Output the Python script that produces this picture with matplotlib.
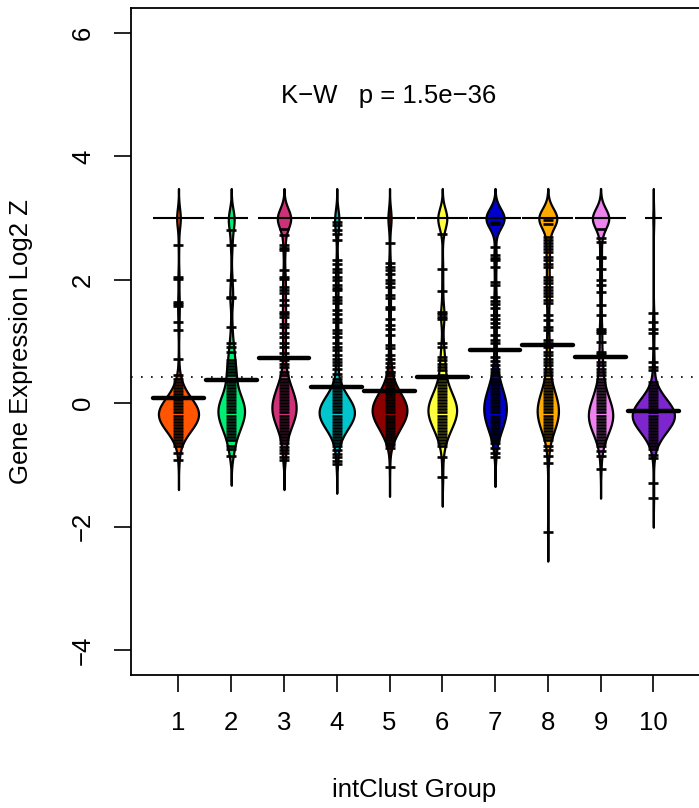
import numpy as np
import matplotlib.pyplot as plt

plt.rcParams['font.family'] = ['Liberation Sans', 'DejaVu Sans']

groups = ['1', '2', '3', '4', '5', '6', '7', '8', '9', '10']
colors = ['#FF5500', '#00EE76', '#CD3278', '#00C5CD', '#8B0000',
          '#FFFF40', '#0000CD', '#FFAA00', '#EE82EE', '#7D26CD']

# dense part of each bean: number of samples per 0.05-wide bin
body_bins = [0.70, 0.65, 0.60, 0.55, 0.50, 0.45, 0.40, 0.35, 0.30, 0.25,
             0.20, 0.15, 0.10, 0.05, 0.00, -0.05, -0.10, -0.15, -0.20, -0.25,
             -0.30, -0.35, -0.40, -0.45, -0.50, -0.55, -0.60, -0.65, -0.70, -0.75,
             -0.80, -0.85, -0.90, -0.95]
body_g1 = [0,0,0,0,0, 1,1,1,2,2, 3,4,5,7,9, 10,11,12,12,11, 10,9,7,6,4, 3,2,1,1,0, 0,0,0,0]
body_g2 = [1,1,1,1,1, 1,1,1,1,1, 1,2,2,2,3, 3,3,3,3,3, 2,2,2,2,1, 1,1,0,1,1, 0,1,0,0]
body_g3 = [0,0,0,0,1, 1,2,2,3,3, 4,4,5,5,6, 6,6,6,5,5, 4,4,3,2,2, 1,1,1,0,0, 0,0,0,0]
body_g4 = [0,0,0,0,0, 0,1,1,2,3, 4,5,7,9,11, 12,13,14,13,12, 11,9,7,5,4, 3,2,1,1,0, 0,0,0,0]
body_g5 = [0,0,0,0,1, 1,2,2,3,4, 5,6,8,9,11, 11,12,11,11,10, 9,7,6,5,4, 3,2,1,0,0, 0,0,0,0]
body_g6 = [0,0,0,0,0, 1,1,1,2,2, 2,3,3,4,4, 5,5,5,4,4, 4,3,3,2,2, 1,1,1,0,0, 0,0,0,0]
body_g7 = [0,0,0,1,1, 2,2,2,3,3, 4,4,5,5,6, 6,6,6,5,5, 5,4,4,3,2, 2,1,0,0,0, 0,0,0,0]
body_g8 = [0,0,0,0,1, 1,1,2,2,3, 3,4,4,5,5, 6,6,6,6,5, 5,4,4,3,3, 2,1,0,0,0, 0,0,0,0]
body_g9 = [0,0,0,0,0, 1,1,1,2,2, 2,3,3,4,4, 5,5,6,6,6, 5,5,4,4,3, 2,2,1,1,0, 0,0,0,0]
body_g10 = [0,0,0,0,0, 0,0,1,1,2, 3,4,5,7,9, 11,12,13,14,13, 12,11,9,7,5, 4,3,2,1,1, 0,0,0,0]

# single samples outside the dense part
extra_g1 = [2.56, 2.05, 2.01, 1.64, 1.60, 1.57, 1.32, 1.18, 0.72, -0.81, -0.92]
extra_g2 = [2.81, 2.56, 1.99, 1.72, 1.70, 1.24, 0.97, 0.91, 0.83]
extra_g3 = [2.83, 2.72, 2.56, 2.52, 2.48, 2.16, 2.05, 2.02, 1.89, 1.84, 1.78, 1.67, 1.59,
            1.48, 1.44, 1.40, 1.29, 1.24, 1.13, 1.08, 0.97, 0.91, 0.81, 0.70, 0.64, 0.59,
            -0.71, -0.76, -0.81, -0.87, -0.92]
extra_g4 = [2.94, 2.88, 2.80, 2.75, 2.64, 2.32, 2.26, 2.18, 2.13, 2.05, 2.00, 1.91, 1.87,
            1.83, 1.72, 1.67, 1.62, 1.51, 1.45, 1.37, 1.32, 1.18, 1.13, 1.08, 0.97, 0.91,
            0.86, 0.78, 0.72, 0.67, 0.62, 0.55, 0.48, -0.76, -0.82, -0.87, -0.93, -0.98]
extra_g5 = [2.60, 2.27, 2.21, 2.16, 2.10, 2.00, 1.94, 1.88, 1.75, 1.70, 1.56, 1.53, 1.37,
            1.26, 1.20, 1.10, 0.94, 0.89, 0.78, 0.72, 0.65, 0.58, 0.51, -0.67, -0.72, -1.03]
extra_g6 = [2.75, 2.17, 1.82, 1.48, 1.44, 1.40, 1.37, 0.97, 0.91, 0.75, 0.70, 0.64, 0.59,
            0.54, -0.70, -0.87, -1.19]
extra_g7 = [2.94, 2.90, 2.53, 2.40, 2.35, 2.32, 2.21, 1.97, 1.91, 1.72, 1.66, 1.60, 1.54,
            1.43, 1.36, 1.30, 1.24, 1.10, 1.02, 0.97, 0.86, 0.75, 0.68, 0.62,
            -0.65, -0.72, -0.80, -0.87]
extra_g8 = [2.97, 2.91, 2.70, 2.65, 2.60, 2.55, 2.50, 2.45, 2.37, 2.32, 2.26, 2.21, 2.05,
            2.00, 1.95, 1.89, 1.84, 1.78, 1.73, 1.67, 1.62, 1.43, 1.35, 1.24, 1.18, 1.02,
            0.97, 0.91, 0.83, 0.78, 0.72, 0.67, 0.62, 0.56, -0.70, -0.76, -0.86, -0.97, -2.08]
extra_g9 = [2.83, 2.67, 2.62, 2.37, 2.35, 2.18, 1.99, 1.91, 1.80, 1.59, 1.43, 1.21, 1.17,
            1.13, 1.00, 0.83, 0.79, 0.75, 0.67, 0.62, 0.56, 0.50, -0.78, -0.85, -1.06]
extra_g10 = [1.46, 1.32, 1.21, 1.13, 0.89, 0.67, 0.59, 0.54, -0.84, -0.89, -1.30, -1.53]

# samples capped at the top value 3
cap_value = 3.0
n_capped = [7, 4, 22, 8, 7, 10, 32, 33, 26, 2]

bodies = [body_g1, body_g2, body_g3, body_g4, body_g5,
          body_g6, body_g7, body_g8, body_g9, body_g10]
extras = [extra_g1, extra_g2, extra_g3, extra_g4, extra_g5,
          extra_g6, extra_g7, extra_g8, extra_g9, extra_g10]

bw = 0.16
ll = 0.19


def kde(vals, grid):
    d = (grid[:, None] - vals[None, :]) / bw
    return np.exp(-0.5 * d ** 2).sum(axis=1) / (len(vals) * bw * np.sqrt(2 * np.pi))


samples = []
for body, extra, nc in zip(bodies, extras, n_capped):
    vals = np.concatenate([np.repeat(body_bins, body), extra, [cap_value] * nc])
    samples.append(vals)

curves = []
for vals in samples:
    grid = np.linspace(vals.min() - 3 * bw, vals.max() + 3 * bw, 600)
    curves.append((grid, kde(vals, grid)))
dmax = max(d.max() for g, d in curves)

fig = plt.figure(figsize=(6.99, 8.08), dpi=100)
ax = fig.add_axes([131 / 699, (808 - 674.7) / 808, (700.8 - 131) / 699, (674.7 - 8.3) / 808])

for i, (vals, (grid, dens)) in enumerate(zip(samples, curves)):
    x = i + 1
    w = 0.4 * dens / dmax
    ax.fill_betweenx(grid, x - w, x + w, facecolor=colors[i], edgecolor='black',
                     linewidth=1.6, zorder=2)
    # bean lines
    pts = [b for b, c in zip(body_bins, bodies[i]) if c > 0] + extras[i]
    ax.hlines(pts, x - ll / 2, x + ll / 2, colors='black', linewidth=1.9, zorder=3)
    L = min(0.16 * n_capped[i], 0.97)
    ax.hlines(cap_value, x - L / 2, x + L / 2, colors='black', linewidth=1.5, zorder=3)
    m = vals.mean()
    ax.plot([x - 0.48, x + 0.48], [m, m], color='black', linewidth=3.2,
            solid_capstyle='round', zorder=4)

overall = np.concatenate(samples).mean()
ax.axhline(overall, color='black', linewidth=1.2, linestyle=(0, (1, 5)), zorder=1)

ax.text(4.99, 4.87, 'K\u2212W   p = 1.5e\u221236', ha='center', va='baseline', fontsize=18.5)

ax.set_xlim(0.1, 10.9)
ax.set_ylim(-4.4, 6.4)
ax.set_xticks(range(1, 11))
ax.set_xticklabels(groups)
ax.set_yticks([-4, -2, 0, 2, 4, 6])
ax.set_yticklabels(['\u22124', '\u22122', '0', '2', '4', '6'], rotation=90, va='center')
ax.tick_params(direction='out', length=12, width=1.2, labelsize=18.5)
ax.tick_params(axis='x', pad=14)
ax.tick_params(axis='y', pad=14)
for s in ax.spines.values():
    s.set_linewidth(1.3)

fig.text(414.5 / 699, 1 - 797.5 / 808, 'intClust Group', ha='center', va='baseline', fontsize=18.5)
fig.text(21 / 699, 1 - 341.5 / 808, 'Gene Expression Log2 Z', rotation=90,
         ha='center', va='center', fontsize=18.5)

fig.savefig('out.png', dpi=100)
